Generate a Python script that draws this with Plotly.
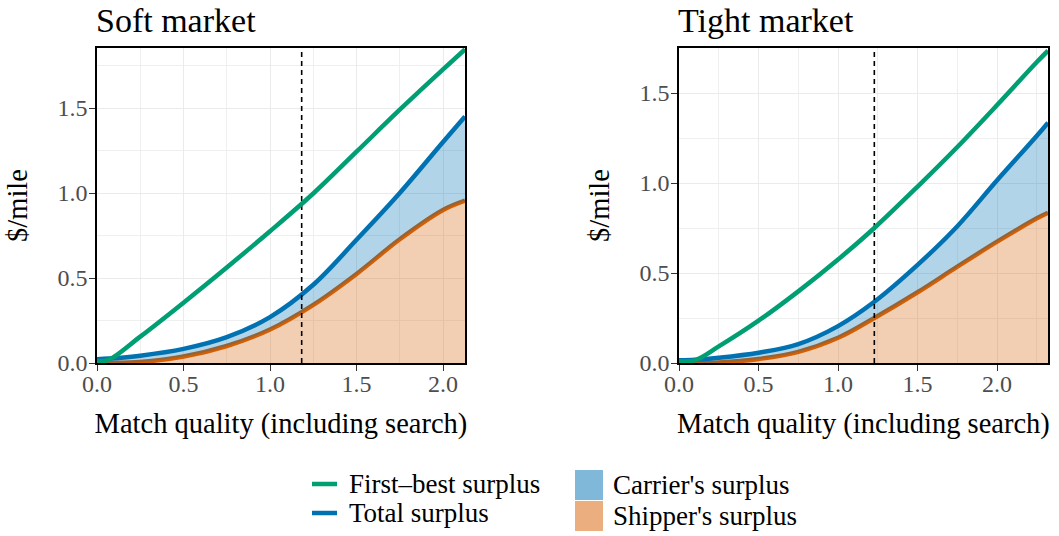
import plotly.graph_objects as go

# ---------------- data ----------------
soft_x = [0.0, 0.07, 0.25, 0.5, 0.75, 1.0, 1.25, 1.5, 1.75, 2.0, 2.127]
soft_first_best = [0.01, 0.02, 0.155, 0.355, 0.562, 0.775, 0.997, 1.243, 1.49, 1.727, 1.845]
soft_total = [0.022, 0.026, 0.043, 0.083, 0.152, 0.27, 0.46, 0.725, 1.0, 1.3, 1.45]
soft_shipper = [0.0, 0.001, 0.006, 0.038, 0.10, 0.197, 0.342, 0.524, 0.728, 0.9, 0.955]
soft_cutoff = 1.183

tight_x = [0.0, 0.1, 0.25, 0.5, 0.75, 1.0, 1.228, 1.5, 1.75, 2.0, 2.25, 2.32]
tight_first_best = [0.01, 0.015, 0.092, 0.235, 0.398, 0.575, 0.75, 0.98, 1.20, 1.433, 1.672, 1.735]
tight_total = [0.015, 0.018, 0.029, 0.057, 0.105, 0.205, 0.34, 0.545, 0.76, 1.015, 1.262, 1.335]
tight_shipper = [0.0, 0.001, 0.003, 0.022, 0.062, 0.14, 0.25, 0.393, 0.535, 0.674, 0.804, 0.835]
tight_cutoff = 1.228

soft_xrange = [0, 2.127]
soft_yrange = [0, 1.853]
tight_xrange = [0, 2.32]
tight_yrange = [0, 1.75]

panel_titles = ["Soft market", "Tight market"]
x_title = "Match quality (including search)"
y_title = "$/mile"
legend_labels = ["First\u2013best surplus", "Total surplus", "Carrier's surplus", "Shipper's surplus"]

# ---------------- styling ----------------
W, H = 1059, 536
FONT = "Liberation Serif"
GREEN, BLUE, ORANGE = "#009E73", "#0072B2", "#D55E00"
BLUE_FILL = "rgba(0,114,178,0.3)"
ORANGE_FILL = "rgba(213,94,0,0.3)"
BLUE_KEY = "rgba(0,114,178,0.5)"
ORANGE_KEY = "rgba(213,94,0,0.5)"
LW = 4.5
SMOOTH = 1.0


def px_x(p):
    return p / W


def px_y(p):
    return 1 - p / H


fig = go.Figure()

panels = [
    dict(x=soft_x, fb=soft_first_best, tot=soft_total, sh=soft_shipper, cut=soft_cutoff,
         xa="x", ya="y", dom=[px_x(97), px_x(465)], xr=soft_xrange, yr=soft_yrange),
    dict(x=tight_x, fb=tight_first_best, tot=tight_total, sh=tight_shipper, cut=tight_cutoff,
         xa="x2", ya="y2", dom=[px_x(679), px_x(1048)], xr=tight_xrange, yr=tight_yrange),
]

for i, p in enumerate(panels):
    # shipper's surplus area + line
    fig.add_trace(go.Scatter(x=p["x"], y=p["sh"], mode="lines", name=legend_labels[3],
                             line=dict(color=ORANGE, width=LW, shape="spline", smoothing=SMOOTH),
                             fill="tozeroy", fillcolor=ORANGE_FILL,
                             xaxis=p["xa"], yaxis=p["ya"], showlegend=False, hoverinfo="skip"))
    # lower edge of carrier's ribbon (invisible)
    fig.add_trace(go.Scatter(x=p["x"], y=p["sh"], mode="lines",
                             line=dict(color="rgba(0,0,0,0)", width=0, shape="spline", smoothing=SMOOTH),
                             xaxis=p["xa"], yaxis=p["ya"], showlegend=False, hoverinfo="skip"))
    # carrier's surplus ribbon + total surplus line
    fig.add_trace(go.Scatter(x=p["x"], y=p["tot"], mode="lines", name=legend_labels[1],
                             line=dict(color=BLUE, width=LW, shape="spline", smoothing=SMOOTH),
                             fill="tonexty", fillcolor=BLUE_FILL,
                             xaxis=p["xa"], yaxis=p["ya"], showlegend=False, hoverinfo="skip"))
    # dashed cutoff
    fig.add_trace(go.Scatter(x=[p["cut"], p["cut"]], y=[p["yr"][0], p["yr"][1]], mode="lines",
                             line=dict(color="black", width=1.6, dash="5px,4px"),
                             xaxis=p["xa"], yaxis=p["ya"], showlegend=False, hoverinfo="skip"))
    # first-best
    fig.add_trace(go.Scatter(x=p["x"], y=p["fb"], mode="lines", name=legend_labels[0],
                             line=dict(color=GREEN, width=LW, shape="spline", smoothing=SMOOTH),
                             xaxis=p["xa"], yaxis=p["ya"], showlegend=False, hoverinfo="skip"))

axis_common = dict(
    showline=True, mirror=True, linecolor="black", linewidth=1.6,
    ticks="outside", ticklen=6, tickwidth=1.4, tickcolor="#333333",
    showgrid=True, gridcolor="#EBEBEB", gridwidth=1.4,
    zeroline=False, dtick=0.5, tick0=0, tickformat=".1f",
    tickfont=dict(family=FONT, size=24, color="#4D4D4D"),
    minor=dict(dtick=0.25, tick0=0, showgrid=True, gridcolor="#EFEFEF", gridwidth=0.8, ticks=""),
    automargin=False, fixedrange=True,
)

fig.update_layout(
    width=W, height=H,
    margin=dict(l=0, r=0, t=0, b=0),
    paper_bgcolor="white", plot_bgcolor="white",
    font=dict(family=FONT, color="black"),
    showlegend=False,
)

ydom = [px_y(363), px_y(48)]
for i, p in enumerate(panels):
    sfx = "" if i == 0 else str(i + 1)
    fig.update_layout(**{
        "xaxis" + sfx: dict(axis_common, domain=p["dom"], range=p["xr"], anchor=p["ya"],
                            ticklabelstandoff=-8,
                            title=dict(text=x_title, font=dict(family=FONT, size=28.5, color="black"),
                                       standoff=17)),
        "yaxis" + sfx: dict(axis_common, domain=ydom, range=p["yr"], anchor=p["xa"],
                            ticklabelstandoff=-3,
                            title=dict(text=y_title, font=dict(family=FONT, size=28.5, color="black"),
                                       standoff=21)),
    })
    fig.add_annotation(text=panel_titles[i], xref="paper", yref="paper",
                       x=p["dom"][0] - 3 / W, y=px_y(20), xanchor="left", yanchor="middle",
                       showarrow=False, font=dict(family=FONT, size=34, color="black"))

# ---------------- manual legend ----------------
leg_items = [
    ("line", GREEN, legend_labels[0], 312, 484),
    ("line", BLUE, legend_labels[1], 312, 513),
    ("box", BLUE_KEY, legend_labels[2], 575, 485),
    ("box", ORANGE_KEY, legend_labels[3], 575, 516),
]
for kind, col, lab, x0, yc in leg_items:
    if kind == "line":
        fig.add_shape(type="line", xref="paper", yref="paper",
                      x0=px_x(x0), x1=px_x(x0 + 25), y0=px_y(yc), y1=px_y(yc),
                      line=dict(color=col, width=4.5))
        tx = x0 + 35
    else:
        fig.add_shape(type="rect", xref="paper", yref="paper",
                      x0=px_x(x0), x1=px_x(x0 + 28), y0=px_y(yc - 15), y1=px_y(yc + 15),
                      line=dict(width=0), fillcolor=col)
        tx = x0 + 36
    fig.add_annotation(text=lab, xref="paper", yref="paper", x=px_x(tx), y=px_y(yc),
                       xanchor="left", yanchor="middle", showarrow=False,
                       font=dict(family=FONT, size=27, color="black"))

fig.write_html("out.html",
               config={"displayModeBar": False},
               post_script="document.body.style.margin='0';document.body.style.overflow='hidden';")
